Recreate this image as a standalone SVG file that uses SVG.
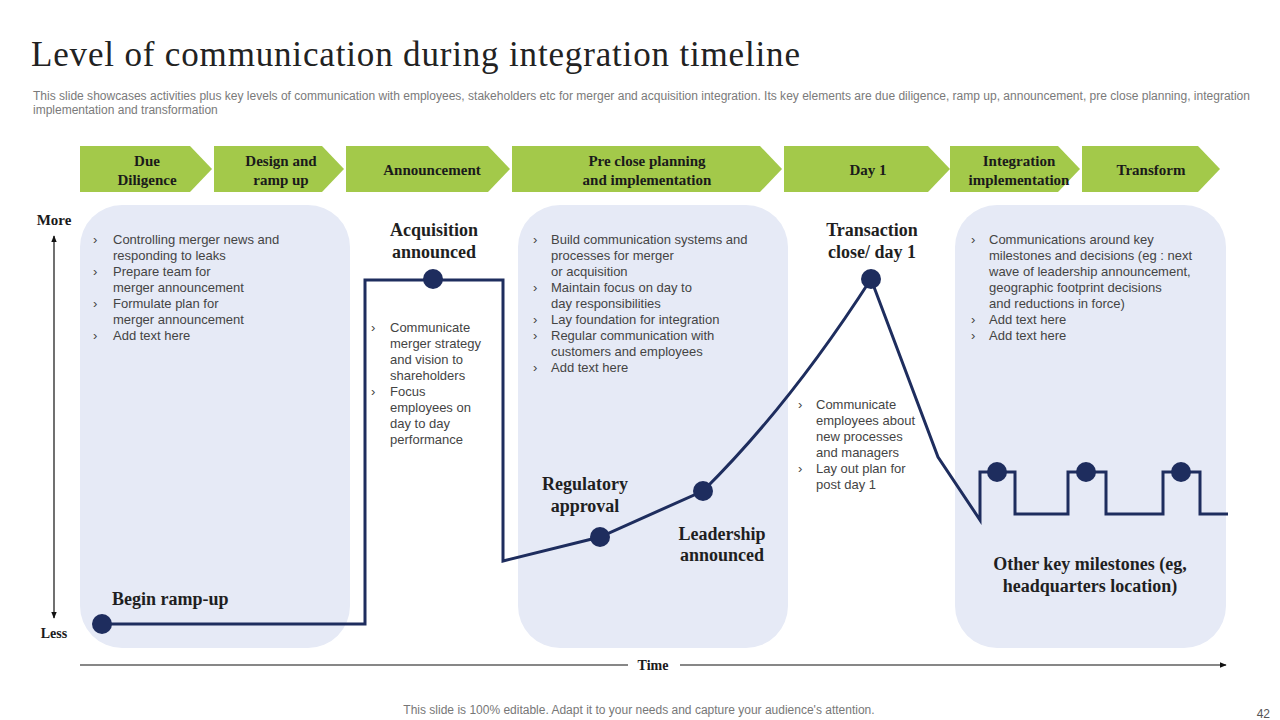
<svg xmlns="http://www.w3.org/2000/svg" width="1280" height="720" viewBox="0 0 1280 720">
<defs>
<marker id="ah" viewBox="0 0 10 10" refX="9" refY="5" markerWidth="7" markerHeight="7" orient="auto-start-reverse" markerUnits="userSpaceOnUse"><path d="M0,1 L10,5 L0,9 z" fill="#111"/></marker>
<style>
.chev{fill:#A3C94A}
.ct{font-family:"Liberation Serif",serif;font-weight:bold;font-size:15px;fill:#1a1a1a;text-anchor:middle}
.panel{fill:#E6EAF6}
.bt{font-family:"Liberation Sans",Arial,sans-serif;font-size:13px;fill:#444}
.lbl{font-family:"Liberation Serif",serif;font-weight:bold;font-size:18px;fill:#1f1f1f;text-anchor:middle}
.ln{fill:none;stroke:#1E2D5E;stroke-width:3;stroke-linejoin:miter}
.dot{fill:#1E2D5E}
.ax{stroke:#111;stroke-width:1.2;fill:none}
</style>
</defs>
<rect width="1280" height="720" fill="#fff"/>
<text x="31" y="66" font-family="Liberation Serif,serif" font-size="35" fill="#222" textLength="769" lengthAdjust="spacing">Level of communication during integration timeline</text>
<text font-family="Liberation Sans,Arial,sans-serif" font-size="12" fill="#7a7a7a"><tspan x="33" y="100" textLength="1217" lengthAdjust="spacingAndGlyphs">This slide showcases activities plus key levels of communication with employees, stakeholders etc for merger and acquisition integration. Its key elements are due diligence, ramp up, announcement, pre close planning, integration</tspan><tspan x="33" y="114">implementation and transformation</tspan></text>

<g id="chevrons">
<g id="c1"><path class="chev" d="M80,146 H190 L212,169 L190,192 H80 Z"/><text class="ct" x="147" y="166">Due</text><text class="ct" x="147" y="185">Diligence</text></g>
<g id="c2"><path class="chev" d="M214,146 H322 L344,169 L322,192 H214 Z"/><text class="ct" x="281" y="166">Design and</text><text class="ct" x="281" y="185">ramp up</text></g>
<g id="c3"><path class="chev" d="M346,146 H488 L510,169 L488,192 H346 Z"/><text class="ct" x="432" y="175">Announcement</text></g>
<g id="c4"><path class="chev" d="M512,146 H760 L782,169 L760,192 H512 Z"/><text class="ct" x="647" y="166">Pre close planning</text><text class="ct" x="647" y="185">and implementation</text></g>
<g id="c5"><path class="chev" d="M784,146 H928 L950,169 L928,192 H784 Z"/><text class="ct" x="868" y="175">Day 1</text></g>
<g id="c6"><path class="chev" d="M950,146 H1058 L1080,169 L1058,192 H950 Z"/><text class="ct" x="1019" y="166">Integration</text><text class="ct" x="1019" y="185">implementation</text></g>
<g id="c7"><path class="chev" d="M1082,146 H1198 L1220,169 L1198,192 H1082 Z"/><text class="ct" x="1151" y="175">Transform</text></g>
</g>

<g id="panel1"><rect class="panel" x="80" y="205" width="270" height="443" rx="42"/>
<text class="bt"><tspan x="93" y="244">›</tspan><tspan x="113" y="244">Controlling merger news and</tspan><tspan x="113" y="260">responding to leaks</tspan><tspan x="93" y="276">›</tspan><tspan x="113" y="276">Prepare team for</tspan><tspan x="113" y="292">merger announcement</tspan><tspan x="93" y="308">›</tspan><tspan x="113" y="308">Formulate plan for</tspan><tspan x="113" y="324">merger announcement</tspan><tspan x="93" y="340">›</tspan><tspan x="113" y="340">Add text here</tspan></text>
</g>
<g id="panel2"><rect class="panel" x="518" y="205" width="270" height="443" rx="42"/>
<text class="bt"><tspan x="533" y="244">›</tspan><tspan x="551" y="244">Build communication systems and</tspan><tspan x="551" y="260">processes for merger</tspan><tspan x="551" y="276">or acquisition</tspan><tspan x="533" y="292">›</tspan><tspan x="551" y="292">Maintain focus on day to</tspan><tspan x="551" y="308">day responsibilities</tspan><tspan x="533" y="324">›</tspan><tspan x="551" y="324">Lay foundation for integration</tspan><tspan x="533" y="340">›</tspan><tspan x="551" y="340">Regular communication with</tspan><tspan x="551" y="356">customers and employees</tspan><tspan x="533" y="372">›</tspan><tspan x="551" y="372">Add text here</tspan></text>
</g>
<g id="panel3"><rect class="panel" x="955" y="205" width="271" height="443" rx="42"/>
<text class="bt"><tspan x="971" y="244">›</tspan><tspan x="989" y="244">Communications around key</tspan><tspan x="989" y="260">milestones and decisions (eg : next</tspan><tspan x="989" y="276">wave of leadership announcement,</tspan><tspan x="989" y="292">geographic footprint decisions</tspan><tspan x="989" y="308">and reductions in force)</tspan><tspan x="971" y="324">›</tspan><tspan x="989" y="324">Add text here</tspan><tspan x="971" y="340">›</tspan><tspan x="989" y="340">Add text here</tspan></text>
</g>

<g id="axes">
<line class="ax" x1="54" y1="236" x2="54" y2="618" marker-start="url(#ah)" marker-end="url(#ah)"/>
<text x="54" y="225" font-family="Liberation Serif,serif" font-weight="bold" font-size="15" fill="#1a1a1a" text-anchor="middle">More</text>
<text x="54" y="638" font-family="Liberation Serif,serif" font-weight="bold" font-size="14" fill="#1a1a1a" text-anchor="middle">Less</text>
<line class="ax" x1="80" y1="665" x2="628" y2="665"/>
<line class="ax" x1="680" y1="665" x2="1226" y2="665" marker-end="url(#ah)"/>
<text x="653" y="670" font-family="Liberation Serif,serif" font-weight="bold" font-size="14" fill="#1a1a1a" text-anchor="middle">Time</text>
</g>

<g id="connectors">
<path class="ln" d="M102,624 H365 V280 H503 V561 L600,537 L703,491 Q790,405 871,279 L938,457 L980,520 V472 H1015 V514 H1068 V472 H1106 V514 H1163 V472 H1200 V514 H1228"/>
</g>

<g id="n-begin"><circle class="dot" cx="102" cy="624" r="10"/><text class="lbl" x="112" y="605" style="text-anchor:start">Begin ramp-up</text></g>
<g id="n-acq"><circle class="dot" cx="433" cy="279" r="10"/><text class="lbl" x="434" y="236">Acquisition</text><text class="lbl" x="434" y="258">announced</text>
<text class="bt"><tspan x="371" y="332">›</tspan><tspan x="390" y="332">Communicate</tspan><tspan x="390" y="348">merger strategy</tspan><tspan x="390" y="364">and vision to</tspan><tspan x="390" y="380">shareholders</tspan><tspan x="371" y="396">›</tspan><tspan x="390" y="396">Focus</tspan><tspan x="390" y="412">employees on</tspan><tspan x="390" y="428">day to day</tspan><tspan x="390" y="444">performance</tspan></text></g>
<g id="n-reg"><circle class="dot" cx="600" cy="537" r="10"/><text class="lbl" x="585" y="490">Regulatory</text><text class="lbl" x="585" y="512">approval</text></g>
<g id="n-lead"><circle class="dot" cx="703" cy="491" r="10"/><text class="lbl" x="722" y="540">Leadership</text><text class="lbl" x="722" y="561">announced</text></g>
<g id="n-close"><circle class="dot" cx="871" cy="279" r="10"/><text class="lbl" x="872" y="236">Transaction</text><text class="lbl" x="872" y="258">close/ day 1</text>
<text class="bt"><tspan x="798" y="409">›</tspan><tspan x="816" y="409">Communicate</tspan><tspan x="816" y="425">employees about</tspan><tspan x="816" y="441">new processes</tspan><tspan x="816" y="457">and managers</tspan><tspan x="798" y="473">›</tspan><tspan x="816" y="473">Lay out plan for</tspan><tspan x="816" y="489">post day 1</tspan></text></g>
<g id="n-other"><circle class="dot" cx="997" cy="472" r="10"/><circle class="dot" cx="1086" cy="472" r="10"/><circle class="dot" cx="1181" cy="472" r="10"/><text class="lbl" x="1090" y="570">Other key milestones (eg,</text><text class="lbl" x="1090" y="592">headquarters location)</text></g>

<text x="639" y="714" font-family="Liberation Sans,Arial,sans-serif" font-size="12" fill="#777" text-anchor="middle">This slide is 100% editable. Adapt it to your needs and capture your audience's attention.</text>
<text x="1270" y="718" font-family="Liberation Sans,Arial,sans-serif" font-size="12" fill="#555" text-anchor="end">42</text>
</svg>
